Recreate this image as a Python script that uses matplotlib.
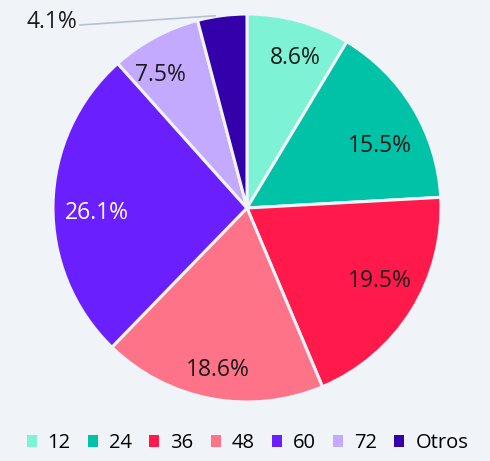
import matplotlib
matplotlib.use("Agg")
import matplotlib.pyplot as plt
from matplotlib.patches import Patch
import numpy as np

categories = ["12", "24", "36", "48", "60", "72", "Otros"]
values = [8.6, 15.5, 19.5, 18.6, 26.1, 7.5, 4.1]
colors = ["#7DF2D5", "#00C2A6", "#FF1A4B", "#FF7389", "#6A1FFF", "#C4AAFF", "#3300AA"]
text_colors = ["#1a1a1a", "#1a1a1a", "#1a1a1a", "#1a1a1a", "#ffffff", "#1a1a1a", "#1a1a1a"]

bg = "#F0F3F8"
plt.rcParams['font.family'] = ['Open Sans', 'DejaVu Sans']

fig = plt.figure(figsize=(4.9, 4.61), dpi=100, facecolor=bg)
W, H = 490, 461
cx, cy, R = 247, 208, 194
ax = fig.add_axes([(cx - R) / W, (H - cy - R) / H, 2 * R / W, 2 * R / H])
ax.set_facecolor(bg)

wedges, _ = ax.pie(values, colors=colors, startangle=90, counterclock=False,
                   wedgeprops=dict(edgecolor=bg, linewidth=2.2), radius=1)
ax.set_xlim(-1, 1)
ax.set_ylim(-1, 1)
ax.set_aspect('equal')
ax.axis('off')

# label placement (radius fraction, angle offset from wedge middle in degrees)
dists = [0.827, 0.763, 0.775, 0.833, 0.773, 0.832]
dang = [-1.9, -5.1, 4.1, 0.1, 1.7, 4.0]
cum = 0
for i, v in enumerate(values):
    mid = 90 - (cum + v / 2) * 3.6
    cum += v
    if i < len(values) - 1:
        r = dists[i]
        a = np.radians(mid + dang[i])
        ax.text(r * np.cos(a), r * np.sin(a),
                f"{v}%", ha='center', va='center_baseline', fontsize=16.5,
                color=text_colors[i])
    else:
        a = np.radians(mid)
        x0, y0 = np.cos(a) * 1.0, np.sin(a) * 1.0
        lx, ly = (80 - cx) / R, (cy - 25) / R
        ax.plot([x0 - 0.03, lx], [y0, ly], color="#B8C0D6", lw=1.2, clip_on=False)
        ax.text(lx - 0.015, ly + 0.03, f"{v}%", ha='right', va='center_baseline',
                fontsize=16.5, color=text_colors[i])

handles = [Patch(facecolor=c, edgecolor='none') for c in colors]
fig.legend(handles, categories, loc='center', bbox_to_anchor=(0.505, (H - 443) / H),
           ncol=7, frameon=False, fontsize=14.5, handlelength=0.5, handleheight=0.5,
           handletextpad=0.55, columnspacing=0.85)

fig.savefig("out.png", dpi=100, facecolor=bg)
